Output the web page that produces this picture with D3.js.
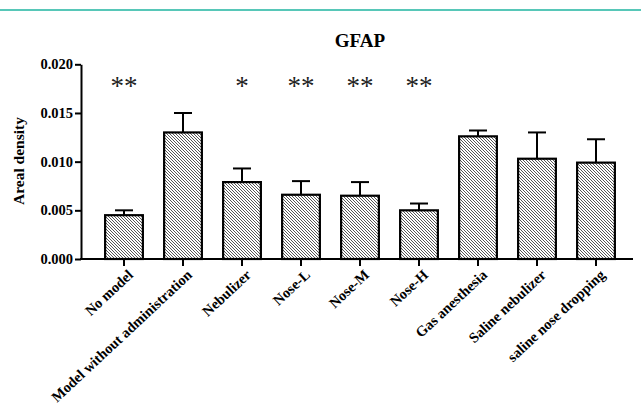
<!DOCTYPE html>
<html>
<head>
<meta charset="utf-8">
<script src="https://cdn.jsdelivr.net/npm/d3@7"></script>
<style>
  body { margin: 0; background: #fff; }
  svg text { font-family: "Liberation Serif", "Times New Roman", serif; font-weight: bold; }
</style>
</head>
<body>
<script>
(function() {
  "use strict";
  const GROUPS = ["No model", "Model without administration", "Nebulizer", "Nose-L", "Nose-M",
                  "Nose-H", "Gas anesthesia", "Saline nebulizer", "saline nose dropping"],
    MEANS = [0.0045, 0.0130, 0.0079, 0.0066, 0.0065, 0.0050, 0.0126, 0.0103, 0.0099],
    ERRORS = [0.0005, 0.0020, 0.0014, 0.0014, 0.0014, 0.0007, 0.0006, 0.0027, 0.0024],
    STARS = ["**", "", "*", "**", "**", "**", "", "", ""],
    Y_TICKS = [0, 0.005, 0.010, 0.015, 0.020];

  const svg_w = 641, svg_h = 406;
  const svg = d3.select("body").append("svg").attr("width", svg_w).attr("height", svg_h);

  // hatch pattern
  const pat = svg.append("defs").append("pattern").attr("id", "hatch")
    .attr("patternUnits", "userSpaceOnUse").attr("width", 3).attr("height", 3);
  pat.append("rect").attr("width", 3).attr("height", 3).attr("fill", "#fff");
  pat.append("path").attr("d", "M-1,-1 L4,4 M-1,2 L1,4 M2,-1 L4,1")
    .attr("stroke", "#444").attr("stroke-width", 0.9);

  // top teal rule
  svg.append("line").attr("x1", 0).attr("x2", svg_w).attr("y1", 10).attr("y2", 10)
    .attr("stroke", "#1fb5a0").attr("stroke-width", 1.5);

  const x = d3.scaleBand().domain(GROUPS).range([94.5, 625.5]).paddingInner(0.36).paddingOuter(0.18);
  const y = d3.scaleLinear().domain([0, 0.020]).range([259, 64.3]);

  // bars
  svg.selectAll("rect.bar").data(MEANS).enter().append("rect")
    .attr("class", "bar")
    .attr("x", (d, i) => x(GROUPS[i]))
    .attr("y", d => y(d))
    .attr("width", x.bandwidth())
    .attr("height", d => y(0) - y(d))
    .attr("fill", "url(#hatch)")
    .attr("stroke", "#000").attr("stroke-width", 2.2);

  // error bars
  const cx = i => x(GROUPS[i]) + x.bandwidth() / 2;
  const eb = svg.selectAll("g.err").data(MEANS).enter().append("g").attr("class", "err")
    .attr("stroke", "#000").attr("stroke-width", 2);
  eb.append("line").attr("x1", (d, i) => cx(i)).attr("x2", (d, i) => cx(i))
    .attr("y1", d => y(d)).attr("y2", (d, i) => y(d + ERRORS[i]));
  eb.append("line").attr("x1", (d, i) => cx(i) - 9).attr("x2", (d, i) => cx(i) + 9)
    .attr("y1", (d, i) => y(d + ERRORS[i])).attr("y2", (d, i) => y(d + ERRORS[i]));

  // significance stars
  svg.selectAll("text.star").data(STARS).enter().append("text")
    .attr("class", "star")
    .attr("x", (d, i) => cx(i)).attr("y", 95)
    .attr("text-anchor", "middle")
    .style("font-weight", "normal")
    .style("font-size", "27px").attr("fill", "#222")
    .text(d => d);

  // y axis
  const yAxis = svg.append("g").attr("transform", "translate(81,0)")
    .call(d3.axisLeft(y).tickValues(Y_TICKS).tickFormat(d3.format(".3f")).tickSize(6).tickSizeOuter(0));
  yAxis.select(".domain").attr("stroke-width", 2);
  yAxis.selectAll(".tick line").attr("stroke-width", 2);
  yAxis.selectAll(".tick text").style("font-size", "14.5px").attr("fill", "#000").attr("x", -8);

  // x axis
  const xAxis = svg.append("g").attr("transform", "translate(0,259)")
    .call(d3.axisBottom(x).tickSize(7).tickSizeOuter(0));
  xAxis.select(".domain").attr("d", "M80,0H633").attr("stroke-width", 2);
  xAxis.selectAll(".tick line").attr("stroke-width", 2);
  xAxis.selectAll(".tick text")
    .style("font-size", "14.5px").attr("fill", "#000")
    .attr("text-anchor", "end").attr("dy", 0).attr("y", 0)
    .attr("transform", "translate(10,17) rotate(-43)");

  // title
  svg.append("text").attr("x", 360).attr("y", 47).attr("text-anchor", "middle")
    .style("font-size", "19px").text("GFAP");

  // y label
  svg.append("text").attr("transform", "translate(24,161) rotate(-90)")
    .attr("text-anchor", "middle").style("font-size", "15.5px").text("Areal density");
}());
</script>
</body>
</html>
